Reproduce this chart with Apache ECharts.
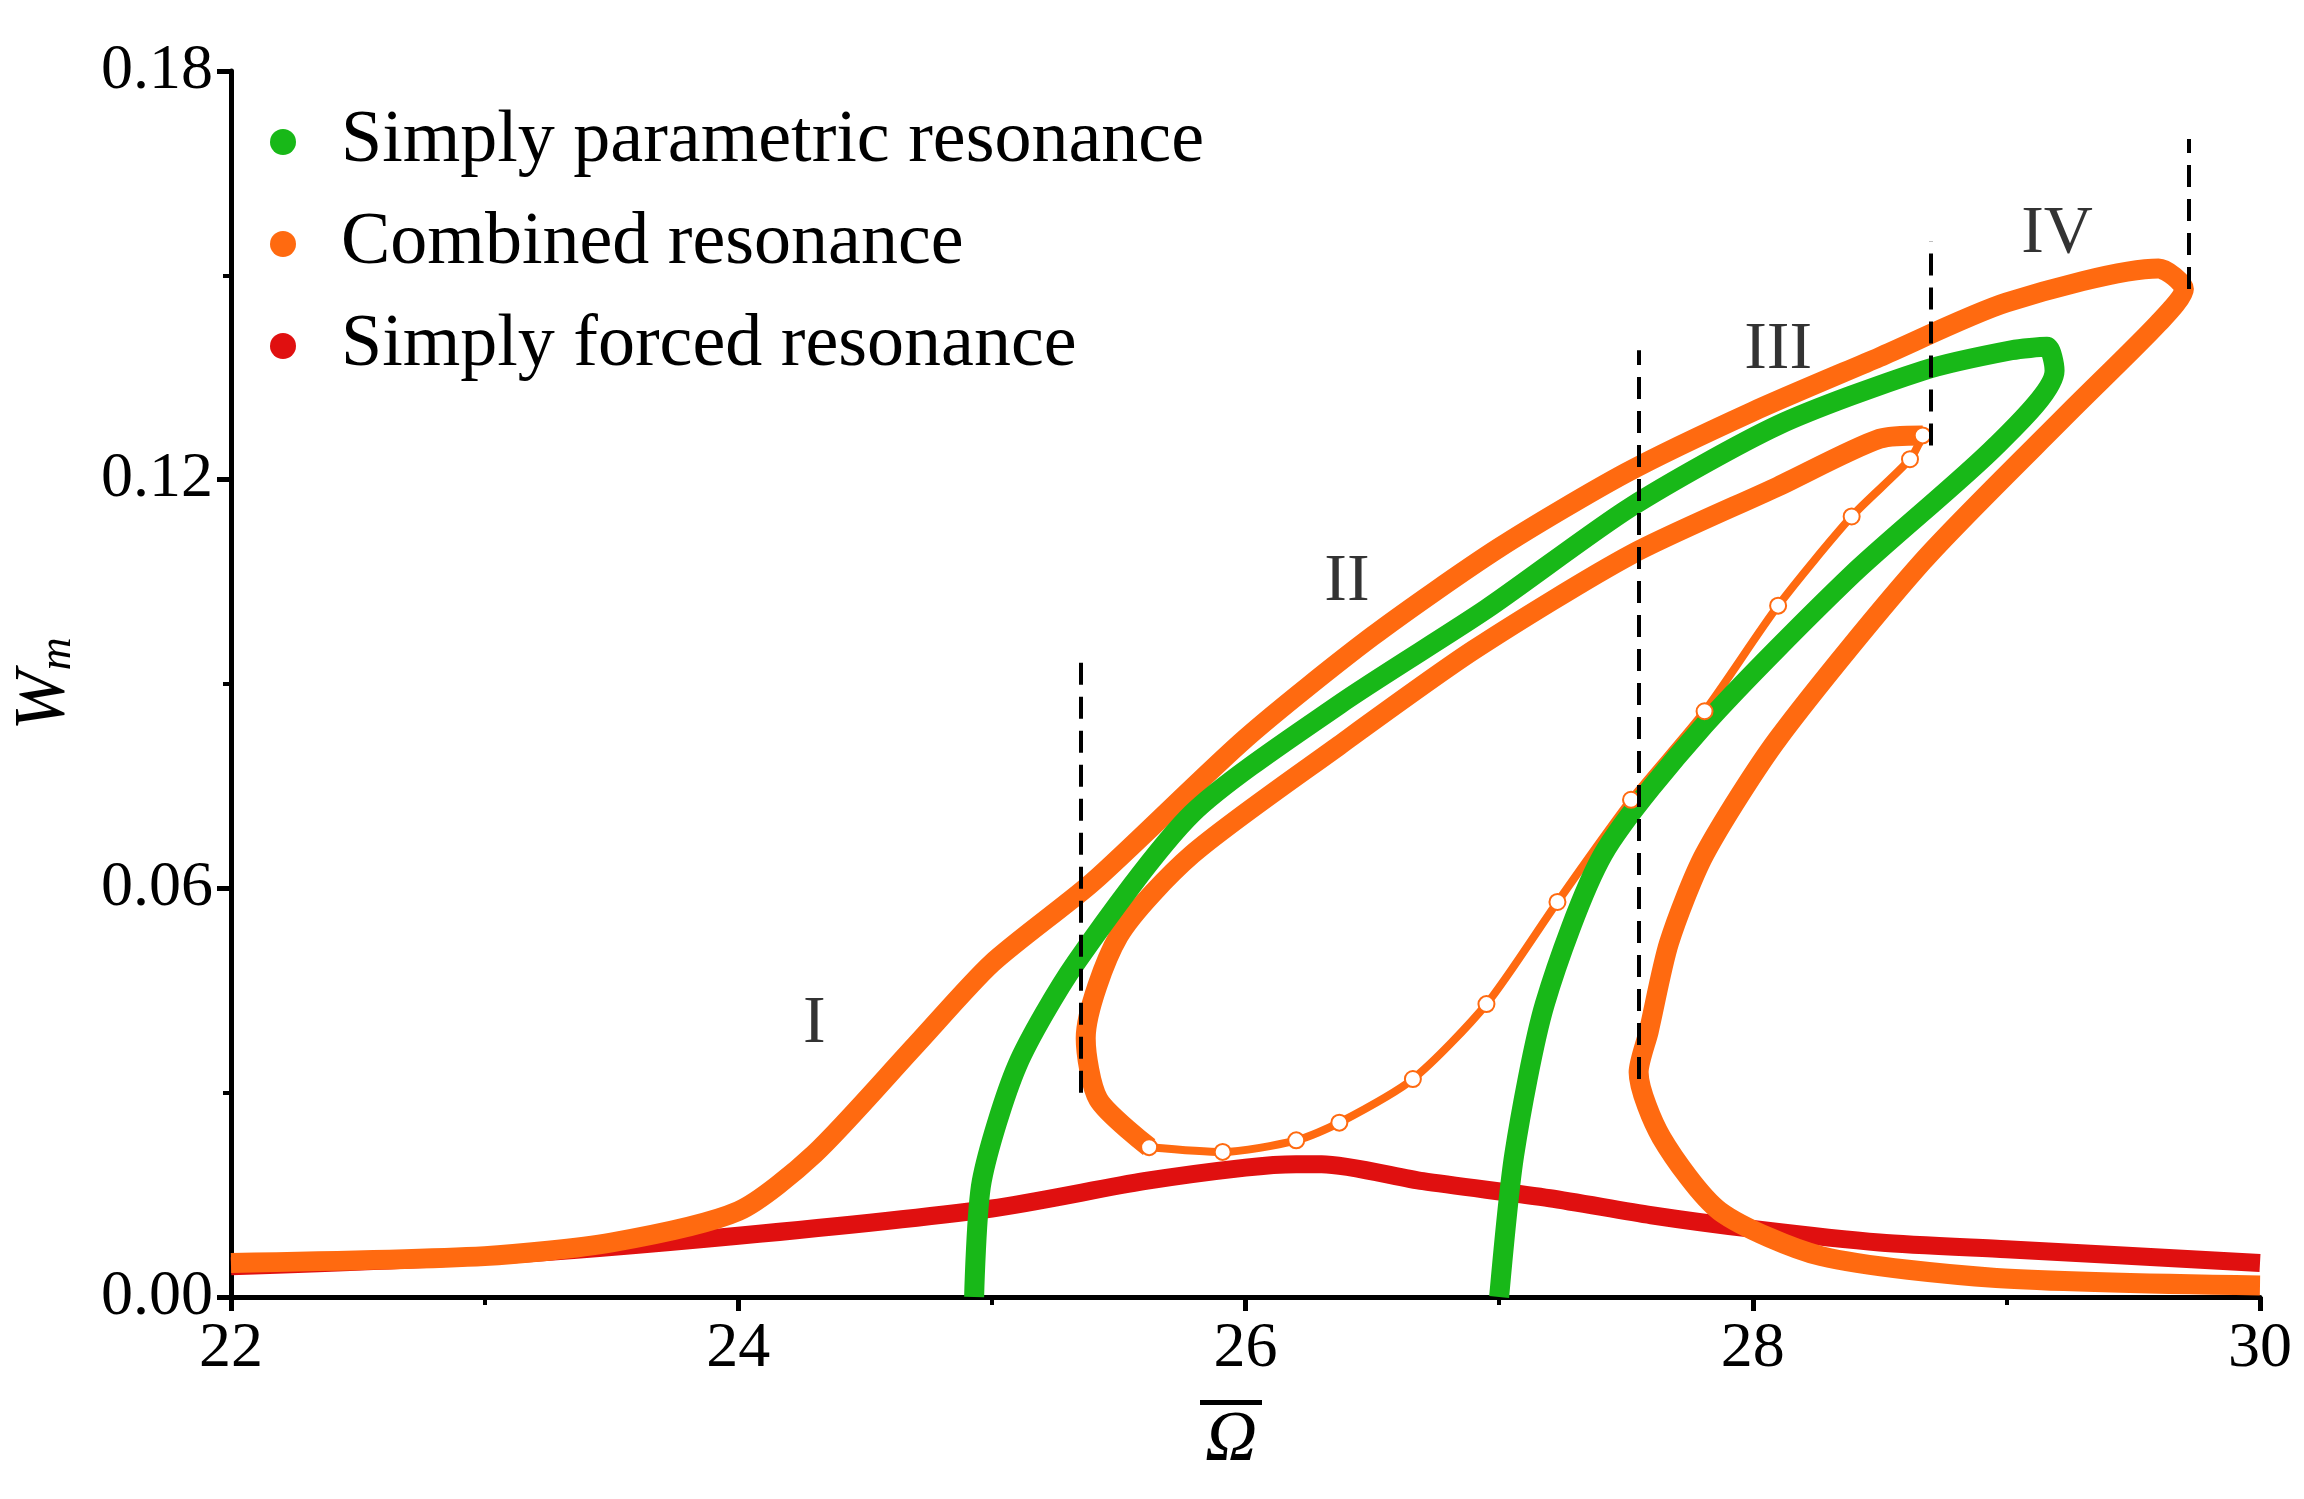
<!DOCTYPE html>
<html><head><meta charset="utf-8">
<script src="https://cdn.jsdelivr.net/npm/echarts@6/dist/echarts.min.js"></script>
<style>html,body{margin:0;background:#fff}#c{width:2304px;height:1499px}</style>
</head><body><div id="c"></div>
<script>
// values
const greenCurve = [[24.93,0],[24.96,0.017],[25.1,0.034],[25.33,0.049],[25.79,0.071],[26.37,0.087],[26.95,0.101],[27.52,0.116],[28.1,0.128],[28.67,0.136],[29.02,0.139],[29.16,0.1395],[29.19,0.136],[28.96,0.125],[28.39,0.106],[27.81,0.084],[27.41,0.065],[27.18,0.043],[27.06,0.021],[27.0,0]];
const orangeOuter = [[22,0.005],[23,0.006],[23.5,0.008],[24,0.0126],[24.3,0.021],[24.7,0.037],[25,0.049],[25.4,0.061],[26,0.082],[26.5,0.097],[27,0.110],[27.5,0.121],[28,0.130],[28.5,0.138],[29,0.146],[29.6,0.151],[29.7,0.148],[29.6,0.143],[29.25,0.130],[28.67,0.108],[28.1,0.082],[27.81,0.065],[27.67,0.052],[27.59,0.039],[27.55,0.033],[27.64,0.0234],[27.87,0.0126],[28.27,0.006],[28.96,0.0028],[30,0.0017]];
const orangeInner = [[28.67,0.1265],[28.5,0.126],[28.1,0.119],[27.52,0.109],[26.9,0.095],[26.37,0.081],[25.79,0.065],[25.5,0.053],[25.37,0.038],[25.42,0.029],[25.62,0.022]];
const orangeUnstable = [[25.62,0.022],[25.91,0.0213],[26.2,0.023],[26.37,0.0256],[26.66,0.032],[26.95,0.043],[27.23,0.058],[27.52,0.073],[27.81,0.086],[28.1,0.1015],[28.39,0.1146],[28.62,0.123],[28.67,0.1265]];
const redCurve = [[22,0.0045],[23,0.006],[24,0.009],[25,0.013],[25.6,0.017],[26,0.019],[26.2,0.0195],[26.3,0.0195],[26.7,0.017],[27.2,0.0145],[27.6,0.012],[28,0.01],[28.5,0.008],[29,0.007],[30,0.005]];
const dashLines = [[[25.35,0.03],[25.35,0.094]],[[27.55,0.032],[27.55,0.139]],[[28.7,0.125],[28.7,0.155]],[[29.72,0.148],[29.72,0.17]]];
const regionLabels = [[24.3,0.04,'I'],[26.4,0.105,'II'],[28.1,0.139,'III'],[29.2,0.156,'IV']];

const font = 'Liberation Serif';
const GREEN = '#18b818', ORANGE = '#ff6a10', RED = '#e01010';
const chart = echarts.init(document.getElementById('c'));
const lineSeries = (name, data, color, w) => ({
  name, type: 'line', data, showSymbol: false, smooth: 0.25,
  lineStyle: {color, width: w}, itemStyle: {color}, z: 3
});
chart.setOption({
  animation: false,
  grid: {left: 210, right: 44, top: 71, bottom: 202},
  legend: {
    left: 265, top: 100, orient: 'vertical', itemGap: 28, icon: 'circle',
    itemWidth: 26, itemHeight: 26,
    textStyle: {fontFamily: font, fontSize: 74, color: '#000', padding: [0,0,0,40]},
    data: ['Simply parametric resonance', 'Combined resonance', 'Simply forced resonance']
  },
  xAxis: {
    type: 'value', min: 22, max: 30, interval: 2,
    axisLine: {lineStyle: {color: '#000', width: 5}},
    axisTick: {length: 14, lineStyle: {width: 5}},
    minorTick: {show: true, splitNumber: 2, length: 8, lineStyle: {color: '#000', width: 4}},
    splitLine: {show: false},
    axisLabel: {fontFamily: font, fontSize: 64, color: '#000', margin: 20}
  },
  yAxis: {
    type: 'value', min: 0, max: 0.18, interval: 0.06,
    axisLine: {show: true, lineStyle: {color: '#000', width: 5}},
    axisTick: {show: true, length: 14, lineStyle: {width: 5}},
    minorTick: {show: true, splitNumber: 2, length: 8, lineStyle: {color: '#000', width: 4}},
    splitLine: {show: false},
    axisLabel: {fontFamily: font, fontSize: 64, color: '#000', margin: 18, formatter: v => v.toFixed(2)},
    name: '{w|W}{m|m}', nameLocation: 'middle', nameGap: 150, nameRotate: 90,
    nameTextStyle: {rich: {
      w: {fontFamily: font, fontSize: 72, fontStyle: 'italic', color: '#000'},
      m: {fontFamily: font, fontSize: 46, fontStyle: 'italic', color: '#000', verticalAlign: 'bottom', padding: [28,0,0,0]}
    }}
  },
  graphic: [
    {type: 'text', left: 1205, top: 1405, style: {text: 'Ω', font: 'italic 72px "Liberation Serif"', fill: '#000'}},
    {type: 'rect', shape: {x: 1200, y: 1400, width: 62, height: 5}, style: {fill: '#000'}}
  ],
  series: [
    lineSeries('Simply forced resonance', redCurve, RED, 18),
    lineSeries('Combined resonance', orangeOuter, ORANGE, 20),
    lineSeries('Combined resonance', orangeInner, ORANGE, 20),
    {name: 'Combined resonance', type: 'line', data: orangeUnstable, smooth: 0.25, symbol: 'emptyCircle', symbolSize: 16,
     lineStyle: {color: ORANGE, width: 8}, itemStyle: {color: ORANGE, borderWidth: 3}, z: 3},
    lineSeries('Simply parametric resonance', greenCurve, GREEN, 20),
    {type: 'line', data: [], markLine: {silent: true, symbol: 'none',
      lineStyle: {color: '#000', type: [22, 12], width: 4},
      label: {show: false},
      data: dashLines.map(l => [{coord: l[0]}, {coord: l[1]}])}},
    {type: 'scatter', symbolSize: 0, data: regionLabels.map(r => [r[0], r[1], r[2]]),
     label: {show: true, formatter: p => p.data[2], fontFamily: font, fontSize: 68, color: '#000', position: 'inside'}, z: 5}
  ]
});
</script></body></html>
